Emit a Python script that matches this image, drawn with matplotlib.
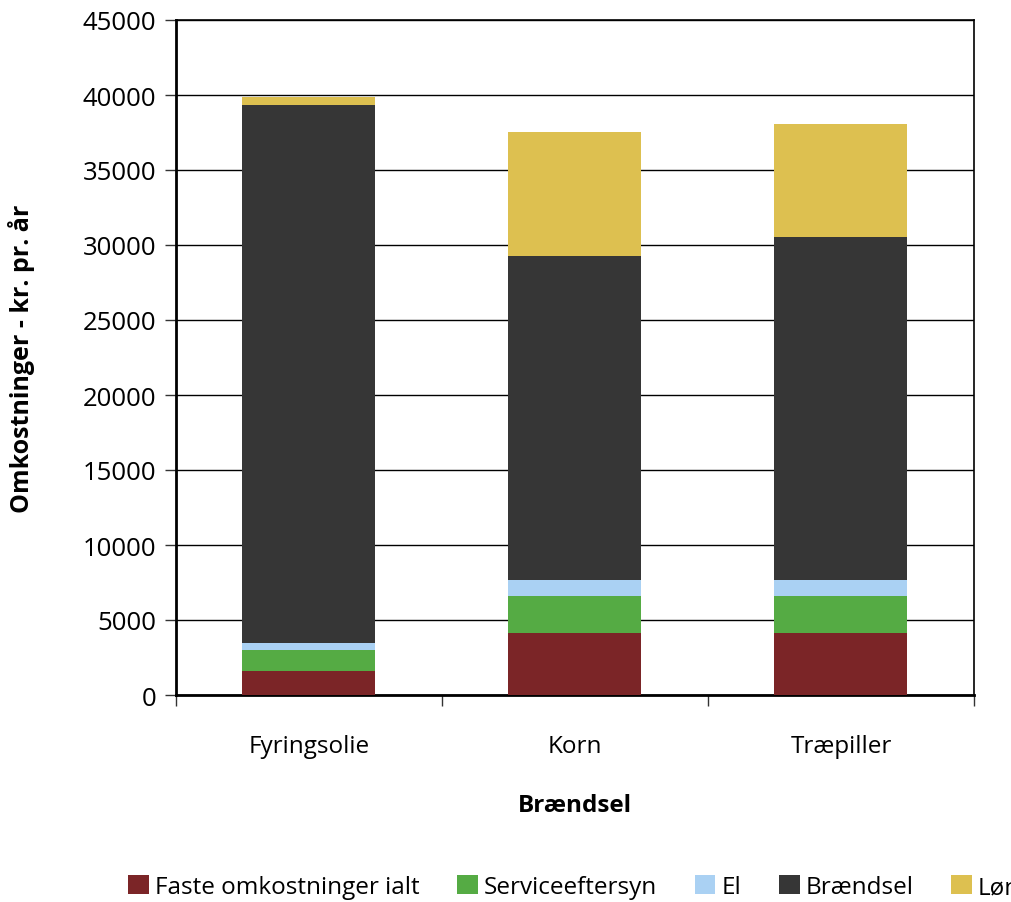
import matplotlib
matplotlib.use("Agg")
import matplotlib.pyplot as plt
import numpy as np

plt.rcParams['font.family'] = ['Open Sans', 'DejaVu Sans']

categories = ["Fyringsolie", "Korn", "Træpiller"]
series_names = ["Faste omkostninger ialt", "Serviceeftersyn", "El", "Brændsel", "Løn"]
faste = [1600, 4130, 4130]
service = [1400, 2470, 2470]
el = [470, 1070, 1070]
braendsel = [35870, 21600, 22870]
loen = [530, 8270, 7530]
colors = ["#7B2527", "#55AB44", "#AAD1F3", "#363636", "#DDC050"]

fig = plt.figure(figsize=(10.12, 9.03), dpi=100)
ax = fig.add_axes([176/1012, 1 - 696/903, (974-176)/1012, (696-21)/903])

x = np.arange(len(categories))
bottom = np.zeros(len(categories))
handles = []
for name, vals, c in zip(series_names, [faste, service, el, braendsel, loen], colors):
    h = ax.bar(x, vals, width=0.5, bottom=bottom, color=c, label=name, zorder=3)
    handles.append(h)
    bottom += np.array(vals)

ax.set_xlim(-0.5, 2.5)
ax.set_ylim(0, 45000)
ax.set_yticks(np.arange(0, 45001, 5000))
ax.yaxis.grid(True, color="#000000", linewidth=1.0, zorder=0)
ax.set_axisbelow(True)
for s in ax.spines.values():
    s.set_color("#000000")
    s.set_linewidth(1.2)
ax.spines['left'].set_linewidth(2)
ax.spines['bottom'].set_linewidth(2)

ax.set_xticks(x)
ax.set_xticklabels(categories)
ax.set_xticks([-0.5, 0.5, 1.5, 2.5], minor=True)
ax.tick_params(axis='x', which='major', length=0, pad=28, labelsize=17.5)
ax.tick_params(axis='x', which='minor', length=8, width=1, color="#333333")
ax.tick_params(axis='y', length=8, width=1, labelsize=18.5, pad=6, color="#333333")

ax.set_xlabel("Brændsel", fontsize=17.5, fontweight='bold', va='center')
ax.xaxis.set_label_coords(0.5, (696 - 806) / 675, transform=ax.transAxes)
ax.set_ylabel("Omkostninger - kr. pr. år", fontsize=18, fontweight='bold', va='center')
ax.yaxis.set_label_coords((22 - 176) / 798, 0.5, transform=ax.transAxes)

fig.legend(handles=handles, labels=series_names, loc='center left',
           bbox_to_anchor=(128/1012, 1 - 888/903), ncol=5, frameon=False,
           fontsize=17.5, handlelength=0.85, handleheight=0.85, handletextpad=0.25,
           columnspacing=1.55, borderaxespad=0, borderpad=0)

fig.savefig("out.png", dpi=100)
